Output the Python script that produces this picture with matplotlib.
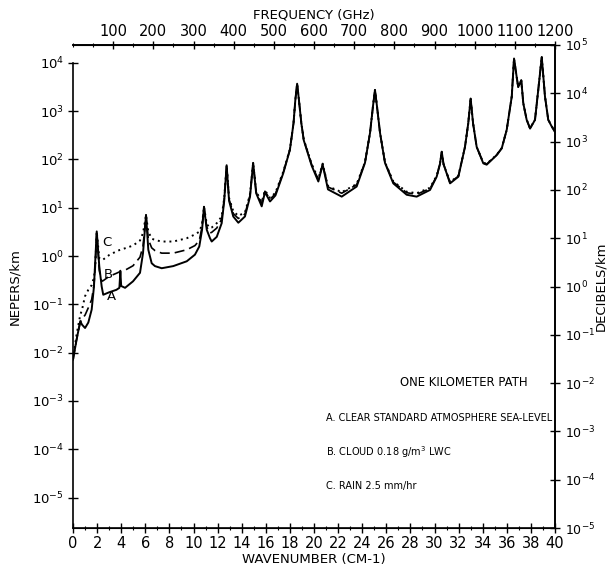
#!/usr/bin/env python3

import matplotlib
matplotlib.use('Agg')
import matplotlib.pyplot as plt
import matplotlib.ticker as tkr

plt.rcParams['font.family'] = 'DejaVu Sans'
plt.rcParams['font.size'] = 9
plt.rcParams['mathtext.default'] = 'regular'

# Wavenumber grid (cm^-1) shared by the three attenuation curves
wavenumber = [
    0.0, 0.3, 0.6, 0.75, 1.0, 1.27, 1.55, 1.74, 1.85, 1.97,
    2.18, 2.38, 2.51, 3.0, 3.6, 3.85, 3.93, 4.0, 4.32, 4.98,
    5.56, 5.81, 6.06, 6.25, 6.53, 6.8, 7.36, 8.32, 9.44, 10.12,
    10.48, 10.71, 10.87, 11.1, 11.37, 11.51, 11.93, 12.34, 12.55, 12.75,
    12.95, 13.3, 13.72, 14.27, 14.69, 14.95, 15.2, 15.66, 15.93, 16.35,
    16.8, 17.45, 18.0, 18.3, 18.45, 18.6, 18.75, 18.95, 19.15, 19.81,
    20.36, 20.72, 21.16, 22.3, 23.54, 24.23, 24.65, 24.9, 25.06, 25.22,
    25.48, 25.89, 26.58, 27.69, 28.52, 29.63, 30.18, 30.45, 30.6, 30.75,
    31.29, 31.98, 32.53, 32.8, 33.0, 33.2, 33.5, 34.05, 34.33, 35.16,
    35.58, 35.99, 36.41, 36.6, 36.82, 36.95, 37.2, 37.37, 37.65, 37.93,
    38.34, 38.61, 38.9, 39.17, 39.44, 39.73, 40.0,
]

# A. clear standard atmosphere, sea level (nepers/km)
clear_air = [
    0.0072, 0.0186, 0.045, 0.038, 0.0324, 0.042, 0.078, 0.234, 0.83, 3.24,
    0.62, 0.234, 0.158, 0.178, 0.20, 0.22, 0.48, 0.24, 0.22, 0.30,
    0.45, 1.15, 7.1, 1.35, 0.71, 0.62, 0.56, 0.62, 0.78, 1.07,
    1.58, 3.5, 10.5, 3.5, 2.34, 2.0, 2.5, 4.8, 14.0, 76.0,
    14.0, 6.6, 4.9, 6.6, 17.0, 85.0, 20.0, 10.7, 21.0, 13.5,
    18.0, 52.0, 158.0, 560.0, 1700.0, 3700.0, 1700.0, 560.0, 250.0, 74.0,
    35.0, 78.0, 24.0, 17.0, 27.5, 85.0, 355.0, 1300.0, 2750.0, 1300.0,
    355.0, 85.0, 32.0, 18.6, 17.0, 23.4, 44.0, 80.0, 145.0, 80.0,
    32.0, 44.0, 182.0, 560.0, 1820.0, 560.0, 182.0, 83.0, 78.0, 123.0,
    170.0, 407.0, 2000.0, 12300.0, 5100.0, 3160.0, 4370.0, 1450.0, 660.0, 437.0,
    660.0, 2750.0, 13200.0, 2000.0, 660.0, 480.0, 370.0,
]

# B. cloud, 0.18 g/m^3 liquid water content
cloud = [
    0.0072, 0.019, 0.042, 0.05, 0.06, 0.085, 0.126, 0.25, 0.6, 3.24,
    0.5, 0.30, 0.31, 0.38, 0.44, 0.47, 0.5, 0.49, 0.51, 0.63,
    0.95, 1.6, 7.1, 2.2, 1.48, 1.3, 1.15, 1.15, 1.35, 1.65,
    2.1, 4.0, 10.5, 4.0, 3.0, 3.1, 3.8, 5.8, 15.0, 76.0,
    15.0, 7.6, 6.0, 7.4, 18.0, 85.0, 21.0, 12.0, 22.0, 15.0,
    19.5, 54.0, 160.0, 560.0, 1700.0, 3700.0, 1700.0, 560.0, 255.0, 78.0,
    38.0, 80.0, 27.0, 20.0, 30.0, 87.0, 355.0, 1300.0, 2750.0, 1300.0,
    355.0, 87.0, 34.0, 20.5, 19.0, 25.0, 45.0, 80.0, 145.0, 80.0,
    33.5, 45.0, 182.0, 560.0, 1820.0, 560.0, 182.0, 85.0, 80.0, 124.0,
    171.0, 407.0, 2000.0, 12300.0, 5100.0, 3160.0, 4370.0, 1450.0, 665.0, 440.0,
    665.0, 2750.0, 13200.0, 2000.0, 665.0, 485.0, 375.0,
]

# C. rain, 2.5 mm/hr
rain = [
    0.0072, 0.024, 0.06, 0.078, 0.148, 0.2, 0.25, 0.36, 0.62, 3.24,
    0.9, 0.83, 0.85, 1.05, 1.25, 1.33, 1.35, 1.37, 1.45, 1.65,
    2.1, 3.0, 7.1, 3.2, 2.3, 2.15, 2.0, 2.0, 2.34, 2.8,
    3.2, 4.5, 10.5, 4.6, 3.8, 3.9, 4.8, 6.6, 16.0, 76.0,
    16.0, 8.5, 6.8, 8.0, 19.0, 85.0, 22.0, 13.0, 23.0, 16.0,
    20.5, 56.0, 162.0, 560.0, 1700.0, 3700.0, 1700.0, 560.0, 260.0, 80.0,
    40.0, 82.0, 28.0, 21.0, 31.0, 88.0, 355.0, 1300.0, 2750.0, 1300.0,
    355.0, 88.0, 35.0, 21.5, 20.0, 26.0, 46.0, 80.0, 145.0, 80.0,
    34.0, 46.0, 182.0, 560.0, 1820.0, 560.0, 182.0, 86.0, 81.0, 125.0,
    172.0, 407.0, 2000.0, 12300.0, 5100.0, 3160.0, 4370.0, 1450.0, 670.0, 443.0,
    670.0, 2750.0, 13200.0, 2000.0, 670.0, 490.0, 378.0,
]

freq_ticks = [100, 200, 300, 400, 500, 600, 700, 800, 900, 1000, 1100, 1200]
legend_lines = [
    'A. CLEAR STANDARD ATMOSPHERE SEA-LEVEL',
    'B. CLOUD 0.18 g/m$^3$ LWC',
    'C. RAIN 2.5 mm/hr',
]

# 1 cm^-1 ~ 30 GHz
GHZ_PER_WN = 30.0

linewidth = 1.2

fig = plt.figure(figsize=(6.13, 5.74), dpi=100)
ax = fig.add_axes([73 / 613, 46 / 574, 482 / 613, 483 / 574])

ax.plot(wavenumber, rain, color='black', linewidth=1.4, linestyle=(0, (1, 2)))
ax.plot(wavenumber, cloud, color='black', linewidth=1.2, linestyle=(0, (6, 3)))
ax.plot(wavenumber, clear_air, color='black', linewidth=1.4)

ax.set_yscale('log')
ax.set_xlim(0, 40)
ax.set_ylim(10 ** -5.63, 10 ** 4.37)

# left axis only runs up to the 10^4 tick
ax.spines['left'].set_bounds(10 ** -5.63, 1e4)
for side in ['top', 'bottom', 'left', 'right']:
    ax.spines[side].set_linewidth(linewidth)

ax.yaxis.set_major_locator(tkr.LogLocator(base=10, numticks=20))
ax.yaxis.set_minor_locator(tkr.NullLocator())
ax.xaxis.set_major_locator(tkr.MultipleLocator(2))
ax.xaxis.set_minor_locator(tkr.MultipleLocator(1))
ax.tick_params(axis='both', which='major', direction='inout', length=7,
               width=1, labelsize=10.5, pad=2)
ax.tick_params(axis='x', which='minor', direction='inout', length=3, width=0.8)
ax.tick_params(axis='y', labelsize=9.5, pad=3)
ax.tick_params(axis='x', top=False)

ax.set_xlabel('WAVENUMBER (CM-1)', fontsize=9.5, labelpad=2)
ax.set_ylabel('NEPERS/km', fontsize=9.5)
ax.yaxis.set_label_coords(-0.107, 0.5)

# decibel scale on the right
ax2 = ax.twinx()
ax2.set_yscale('log')
ax2.set_ylim(1e-5, 1e5)
ax2.yaxis.set_major_locator(tkr.LogLocator(base=10, numticks=20))
ax2.yaxis.set_minor_locator(tkr.NullLocator())
ax2.spines['left'].set_visible(False)
ax2.spines['right'].set_linewidth(linewidth)
ax2.tick_params(axis='y', direction='inout', length=7, width=1,
                labelsize=9, pad=4)
ax2.set_ylabel('DECIBELS/km', fontsize=9.5)
ax2.yaxis.set_label_coords(1.081, 0.5)

# frequency scale on top
secax = ax.secondary_xaxis('top', functions=(lambda w: w * GHZ_PER_WN,
                                             lambda f: f / GHZ_PER_WN))
secax.xaxis.set_major_locator(tkr.FixedLocator(freq_ticks))
secax.xaxis.set_minor_locator(tkr.MultipleLocator(50))
secax.tick_params(which='major', direction='inout', length=6, width=1,
                  labelsize=10.5, pad=1)
secax.tick_params(which='minor', direction='inout', length=3, width=0.8)
secax.spines['top'].set_linewidth(linewidth)
secax.set_xlabel('FREQUENCY (GHz)', fontsize=9.5, labelpad=4)

# curve labels
ax.text(2.85, 1.95, 'C', fontsize=9.5, ha='center', va='center')
ax.text(2.95, 0.41, 'B', fontsize=9.5, ha='center', va='center')
ax.text(3.2, 0.145, 'A', fontsize=9.5, ha='center', va='center')

ax.text(0.81, 0.302, 'ONE KILOMETER PATH', transform=ax.transAxes,
        fontsize=8.4, ha='center', va='center')
for i, line in enumerate(legend_lines):
    ax.text(0.525, 0.228 - i * 0.0705, line, transform=ax.transAxes,
            fontsize=7, ha='left', va='center')

fig.savefig('out.png', dpi=100)
